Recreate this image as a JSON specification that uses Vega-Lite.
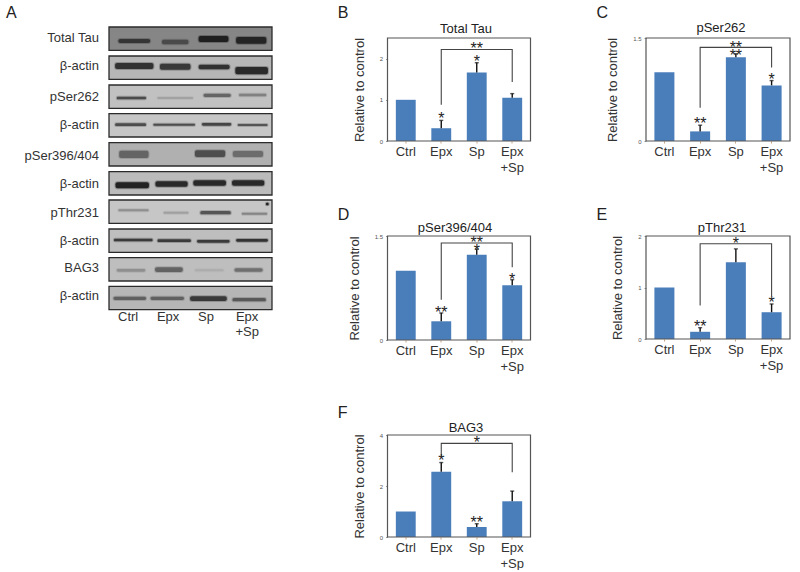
{"$schema":"https://vega.github.io/schema/vega-lite/v6.json","padding":{"left":6,"top":5,"right":0,"bottom":0},"background":"white","bounds":"flush","columns":3,"spacing":{"row":95,"column":115.5},
"config":{"font":"Liberation Sans","view":{"stroke":null},"text":{"font":"Liberation Sans"},"title":{"font":"Liberation Sans"},"axis":{"labelFont":"Liberation Sans","titleFont":"Liberation Sans"}},
"datasets":{
"strips":[{"row":"Total Tau","label":"Total Tau","top":0,"bottom":70,"mid":33,"level":0.56},{"row":"a1","label":"β-actin","top":87,"bottom":157,"mid":118,"level":0.74},{"row":"pSer262","label":"pSer262","top":174,"bottom":244,"mid":210,"level":0.78},{"row":"a2","label":"β-actin","top":260,"bottom":330,"mid":293,"level":0.8},{"row":"pSer396/404","label":"pSer396/404","top":347,"bottom":417,"mid":388,"level":0.72},{"row":"a3","label":"β-actin","top":434,"bottom":504,"mid":472,"level":0.76},{"row":"pThr231","label":"pThr231","top":519,"bottom":589,"mid":557,"level":0.8},{"row":"a4","label":"β-actin","top":606,"bottom":676,"mid":642,"level":0.77},{"row":"BAG3","label":"BAG3","top":692,"bottom":762,"mid":723,"level":0.77},{"row":"a5","label":"β-actin","top":778,"bottom":848,"mid":806,"level":0.74}],
"bands":[
{"a":0.23,"b":1.01,"t":36,"u":48,"d":0.75},{"a":1.3,"b":1.95,"t":38,"u":52,"d":0.55},{"a":2.2,"b":2.93,"t":27,"u":45,"d":0.95},{"a":3.12,"b":3.86,"t":30,"u":50,"d":0.9},
{"a":0.15,"b":1.09,"t":108,"u":126,"d":0.85},{"a":1.25,"b":2.0,"t":110,"u":128,"d":0.8},{"a":2.2,"b":2.96,"t":113,"u":127,"d":0.85},{"a":3.1,"b":3.9,"t":120,"u":142,"d":0.9},
{"a":0.19,"b":0.91,"t":209,"u":217,"d":0.7},{"a":1.19,"b":2.06,"t":211,"u":215,"d":0.22},{"a":2.32,"b":2.99,"t":200,"u":210,"d":0.55},{"a":3.19,"b":3.86,"t":200,"u":208,"d":0.38},
{"a":0.15,"b":0.91,"t":289,"u":297,"d":0.7},{"a":1.09,"b":2.11,"t":290,"u":296,"d":0.7},{"a":2.28,"b":3.0,"t":288,"u":296,"d":0.75},{"a":3.16,"b":3.89,"t":291,"u":297,"d":0.65},
{"a":0.25,"b":0.97,"t":371,"u":393,"d":0.5},{"a":2.11,"b":2.85,"t":370,"u":390,"d":0.65},{"a":3.04,"b":3.78,"t":372,"u":390,"d":0.45},
{"a":0.16,"b":0.98,"t":466,"u":484,"d":0.95},{"a":1.14,"b":1.93,"t":463,"u":479,"d":0.9},{"a":2.07,"b":2.87,"t":460,"u":476,"d":0.9},{"a":3.02,"b":3.81,"t":460,"u":476,"d":0.9},
{"a":0.23,"b":0.97,"t":547,"u":553,"d":0.32},{"a":1.34,"b":1.95,"t":554,"u":560,"d":0.22},{"a":2.24,"b":2.99,"t":552,"u":562,"d":0.65},{"a":3.26,"b":3.88,"t":557,"u":563,"d":0.38},{"a":3.85,"b":3.92,"t":527,"u":535,"d":0.95},
{"a":0.12,"b":1.07,"t":635,"u":643,"d":0.8},{"a":1.19,"b":2.01,"t":637,"u":645,"d":0.8},{"a":2.16,"b":2.96,"t":639,"u":647,"d":0.8},{"a":3.12,"b":3.9,"t":636,"u":644,"d":0.85},
{"a":0.19,"b":0.89,"t":726,"u":734,"d":0.28},{"a":1.13,"b":1.81,"t":721,"u":735,"d":0.55},{"a":2.11,"b":2.81,"t":727,"u":733,"d":0.1},{"a":3.08,"b":3.77,"t":724,"u":734,"d":0.48},
{"a":0.11,"b":0.91,"t":809,"u":819,"d":0.55},{"a":1.02,"b":1.84,"t":809,"u":819,"d":0.55},{"a":1.99,"b":2.89,"t":808,"u":822,"d":0.8},{"a":3.03,"b":3.85,"t":813,"u":823,"d":0.6}],
"lanes":[{"x":0.47,"y":870,"text":"Ctrl"},{"x":1.45,"y":870,"text":"Epx"},{"x":2.38,"y":870,"text":"Sp"},{"x":3.39,"y":870,"text":"Epx"},{"x":3.39,"y":916,"text":"+Sp"}],
"bars":[
{"p":"B","c":"Ctrl","v":1},{"p":"B","c":"Epx","v":0.31,"e":0.5},{"p":"B","c":"Sp","v":1.66,"e":1.9},{"p":"B","c":"Epx+Sp","v":1.05,"e":1.15},
{"p":"C","c":"Ctrl","v":1},{"p":"C","c":"Epx","v":0.14,"e":0.23},{"p":"C","c":"Sp","v":1.22,"e":1.27},{"p":"C","c":"Epx+Sp","v":0.81,"e":0.88},
{"p":"D","c":"Ctrl","v":1},{"p":"D","c":"Epx","v":0.27,"e":0.39},{"p":"D","c":"Sp","v":1.23,"e":1.31},{"p":"D","c":"Epx+Sp","v":0.79,"e":0.87},
{"p":"E","c":"Ctrl","v":1},{"p":"E","c":"Epx","v":0.14,"e":0.22},{"p":"E","c":"Sp","v":1.49,"e":1.75},{"p":"E","c":"Epx+Sp","v":0.52,"e":0.68},
{"p":"F","c":"Ctrl","v":1},{"p":"F","c":"Epx","v":2.56,"e":2.92},{"p":"F","c":"Sp","v":0.39,"e":0.52},{"p":"F","c":"Epx+Sp","v":1.4,"e":1.8}],
"brackets":[
{"p":"B","c":"Epx","y":0.88,"o":1},{"p":"B","c":"Epx","y":2.22,"o":2},{"p":"B","c":"Epx+Sp","y":2.22,"o":3},{"p":"B","c":"Epx+Sp","y":1.43,"o":4},
{"p":"C","c":"Epx","y":0.484,"o":1},{"p":"C","c":"Epx","y":1.363,"o":2},{"p":"C","c":"Epx+Sp","y":1.363,"o":3},{"p":"C","c":"Epx+Sp","y":1.07,"o":4},
{"p":"D","c":"Epx","y":0.58,"o":1},{"p":"D","c":"Epx","y":1.4,"o":2},{"p":"D","c":"Epx+Sp","y":1.4,"o":3},{"p":"D","c":"Epx+Sp","y":1.05,"o":4},
{"p":"E","c":"Epx","y":0.65,"o":1},{"p":"E","c":"Epx","y":1.85,"o":2},{"p":"E","c":"Epx+Sp","y":1.85,"o":3},{"p":"E","c":"Epx+Sp","y":0.83,"o":4},
{"p":"F","c":"Epx","y":3.15,"o":1},{"p":"F","c":"Epx","y":3.67,"o":2},{"p":"F","c":"Epx+Sp","y":3.67,"o":3},{"p":"F","c":"Epx+Sp","y":2.54,"o":4}],
"stars":[
{"p":"B","c":"Epx","y":0.63,"s":"*"},{"p":"B","c":"Sp","y":2.01,"s":"*"},{"p":"B","c":"Sp","y":2.32,"s":"**"},
{"p":"C","c":"Epx","y":0.3,"s":"**"},{"p":"C","c":"Sp","y":1.29,"s":"**"},{"p":"C","c":"Sp","y":1.41,"s":"**"},{"p":"C","c":"Epx+Sp","y":0.95,"s":"*"},
{"p":"D","c":"Epx","y":0.44,"s":"**"},{"p":"D","c":"Sp","y":1.34,"s":"*"},{"p":"D","c":"Sp","y":1.45,"s":"**"},{"p":"D","c":"Epx+Sp","y":0.93,"s":"*"},
{"p":"E","c":"Epx","y":0.32,"s":"**"},{"p":"E","c":"Sp","y":1.92,"s":"*"},{"p":"E","c":"Epx+Sp","y":0.78,"s":"*"},
{"p":"F","c":"Epx","y":3.13,"s":"*"},{"p":"F","c":"Sp","y":0.72,"s":"**"},{"p":"F","c":"Sp","y":3.84,"s":"*"}]
},
"concat":[
{"width":163,"height":103,"layer":[
{"data":{"name":"strips"},"mark":{"type":"rect","stroke":"#2b2b2b","strokeWidth":1.3},"encoding":{"x":{"datum":0,"type":"quantitative","scale":{"domain":[0,4]},"axis":null},"x2":{"datum":4},"y":{"field":"top","type":"quantitative","scale":{"domain":[342,33],"nice":false,"zero":false},"axis":null},"y2":{"field":"bottom"},"fill":{"field":"level","type":"quantitative","scale":{"domain":[0,1],"range":["#000000","#ffffff"]},"legend":null}}},
{"data":{"name":"bands"},"mark":{"type":"rect","fill":"#1a1a1a","stroke":"#1a1a1a","strokeWidth":2,"strokeOpacity":0.3,"cornerRadius":2},"encoding":{"x":{"field":"a","type":"quantitative"},"x2":{"field":"b"},"y":{"field":"t","type":"quantitative"},"y2":{"field":"u"},"opacity":{"field":"d","type":"quantitative","scale":{"domain":[0,1],"range":[0,1]},"legend":null}}},
{"data":{"name":"strips"},"mark":{"type":"text","align":"right","baseline":"middle","fontSize":13,"fill":"#333333","dx":-10},"encoding":{"x":{"datum":0,"type":"quantitative"},"y":{"field":"mid","type":"quantitative"},"text":{"field":"label"}}},
{"data":{"name":"lanes"},"mark":{"type":"text","align":"center","baseline":"middle","fontSize":13,"fill":"#333333"},"encoding":{"x":{"field":"x","type":"quantitative"},"y":{"field":"y","type":"quantitative"},"text":{"field":"text"}}},
{"data":{"values":[{"x":0,"y":33,"text":"A"}]},"mark":{"type":"text","align":"left","baseline":"middle","fontSize":16,"fill":"#222222","dx":-103,"dy":-25},"encoding":{"x":{"field":"x","type":"quantitative"},"y":{"field":"y","type":"quantitative"},"text":{"field":"text"}}}
]},
{"width":143,"height":103,"title":{"text":"Total Tau","fontSize":13,"fontWeight":"normal","color":"#222222","offset":3,"dx":7,"dy":34},"layer":[
{"data":{"name":"bars"},"transform":[{"filter":"datum.p=='B'"}],"mark":{"type":"bar","fill":"#4a7ebb"},"encoding":{"x":{"field":"c","type":"nominal","sort":["Ctrl","Epx","Sp","Epx+Sp"],"scale":{"paddingInner":0.44,"paddingOuter":0.235},"axis":{"title":null,"labelAngle":0,"labelFontSize":13,"labelColor":"#333333","labelPadding":2,"labelLineHeight":16,"tickSize":2,"tickColor":"#c9a27e","domain":false,"labelExpr":"datum.label=='Epx+Sp'?['Epx','+Sp']:datum.label"}},"y":{"field":"v","type":"quantitative","scale":{"domain":[0,2.5],"nice":false},"axis":{"title":"Relative to control","titleFontSize":13,"titleFontWeight":"normal","titleColor":"#333333","titlePadding":13,"values":[0,0.5,1,1.5,2,2.5],"format":"~g","labelOverlap":false,"labelFontSize":6,"labelColor":"#555555","labelPadding":3,"tickSize":2,"tickColor":"#999999","grid":false,"domain":false}}}},
{"data":{"name":"bars"},"transform":[{"filter":"datum.p=='B' && isValid(datum.e)"}],"mark":{"type":"rule","stroke":"#111111","strokeWidth":1.4},"encoding":{"x":{"field":"c","type":"nominal","sort":["Ctrl","Epx","Sp","Epx+Sp"]},"y":{"field":"v","type":"quantitative"},"y2":{"field":"e"}}},
{"data":{"name":"bars"},"transform":[{"filter":"datum.p=='B' && isValid(datum.e)"}],"mark":{"type":"tick","color":"#111111","size":4,"thickness":1.4},"encoding":{"x":{"field":"c","type":"nominal","sort":["Ctrl","Epx","Sp","Epx+Sp"]},"y":{"field":"e","type":"quantitative"}}},
{"data":{"name":"brackets"},"transform":[{"filter":"datum.p=='B'"}],"mark":{"type":"line","stroke":"#444444","strokeWidth":1.1},"encoding":{"x":{"field":"c","type":"nominal","sort":["Ctrl","Epx","Sp","Epx+Sp"]},"y":{"field":"y","type":"quantitative"},"order":{"field":"o"}}},
{"data":{"name":"stars"},"transform":[{"filter":"datum.p=='B'"}],"mark":{"type":"text","fontSize":16,"dy":4,"fill":"#222222"},"encoding":{"x":{"field":"c","type":"nominal","sort":["Ctrl","Epx","Sp","Epx+Sp"]},"y":{"field":"y","type":"quantitative"},"text":{"field":"s"}}},
{"data":{"values":[{"t":"B","c":"Ctrl","y":2.5}]},"mark":{"type":"text","fontSize":16,"align":"left","baseline":"middle","fill":"#222222","dx":-68,"dy":-25},"encoding":{"x":{"field":"c","type":"nominal","sort":["Ctrl","Epx","Sp","Epx+Sp"]},"y":{"field":"y","type":"quantitative"},"text":{"field":"t"}}},
{"data":{"values":[{"a":0,"b":2.5}]},"mark":{"type":"rect","fill":null,"stroke":"#555555","strokeWidth":1.2},"encoding":{"y":{"field":"a","type":"quantitative"},"y2":{"field":"b"}}}
]},
{"width":144,"height":103,"title":{"text":"pSer262","fontSize":13,"fontWeight":"normal","color":"#222222","offset":3,"dx":3,"dy":33},"layer":[
{"data":{"name":"bars"},"transform":[{"filter":"datum.p=='C'"}],"mark":{"type":"bar","fill":"#4a7ebb"},"encoding":{"x":{"field":"c","type":"nominal","sort":["Ctrl","Epx","Sp","Epx+Sp"],"scale":{"paddingInner":0.44,"paddingOuter":0.235},"axis":{"title":null,"labelAngle":0,"labelFontSize":13,"labelColor":"#333333","labelPadding":2,"labelLineHeight":16,"tickSize":2,"tickColor":"#c9a27e","domain":false,"labelExpr":"datum.label=='Epx+Sp'?['Epx','+Sp']:datum.label"}},"y":{"field":"v","type":"quantitative","scale":{"domain":[0,1.5],"nice":false},"axis":{"title":"Relative to control","titleFontSize":13,"titleFontWeight":"normal","titleColor":"#333333","titlePadding":13,"values":[0,0.5,1,1.5],"format":"~g","labelOverlap":false,"labelFontSize":6,"labelColor":"#555555","labelPadding":3,"tickSize":2,"tickColor":"#999999","grid":false,"domain":false}}}},
{"data":{"name":"bars"},"transform":[{"filter":"datum.p=='C' && isValid(datum.e)"}],"mark":{"type":"rule","stroke":"#111111","strokeWidth":1.4},"encoding":{"x":{"field":"c","type":"nominal","sort":["Ctrl","Epx","Sp","Epx+Sp"]},"y":{"field":"v","type":"quantitative"},"y2":{"field":"e"}}},
{"data":{"name":"bars"},"transform":[{"filter":"datum.p=='C' && isValid(datum.e)"}],"mark":{"type":"tick","color":"#111111","size":4,"thickness":1.4},"encoding":{"x":{"field":"c","type":"nominal","sort":["Ctrl","Epx","Sp","Epx+Sp"]},"y":{"field":"e","type":"quantitative"}}},
{"data":{"name":"brackets"},"transform":[{"filter":"datum.p=='C'"}],"mark":{"type":"line","stroke":"#444444","strokeWidth":1.1},"encoding":{"x":{"field":"c","type":"nominal","sort":["Ctrl","Epx","Sp","Epx+Sp"]},"y":{"field":"y","type":"quantitative"},"order":{"field":"o"}}},
{"data":{"name":"stars"},"transform":[{"filter":"datum.p=='C'"}],"mark":{"type":"text","fontSize":16,"dy":4,"fill":"#222222"},"encoding":{"x":{"field":"c","type":"nominal","sort":["Ctrl","Epx","Sp","Epx+Sp"]},"y":{"field":"y","type":"quantitative"},"text":{"field":"s"}}},
{"data":{"values":[{"t":"C","c":"Ctrl","y":1.5}]},"mark":{"type":"text","fontSize":16,"align":"left","baseline":"middle","fill":"#222222","dx":-68,"dy":-25},"encoding":{"x":{"field":"c","type":"nominal","sort":["Ctrl","Epx","Sp","Epx+Sp"]},"y":{"field":"y","type":"quantitative"},"text":{"field":"t"}}},
{"data":{"values":[{"a":0,"b":1.5}]},"mark":{"type":"rect","fill":null,"stroke":"#555555","strokeWidth":1.2},"encoding":{"y":{"field":"a","type":"quantitative"},"y2":{"field":"b"}}}
]},
{"width":1,"height":1,"data":{"values":[]},"mark":"point"},
{"width":143,"height":104,"title":{"text":"pSer396/404","fontSize":13,"fontWeight":"normal","color":"#222222","offset":3,"dx":-4,"dy":31},"layer":[
{"data":{"name":"bars"},"transform":[{"filter":"datum.p=='D'"}],"mark":{"type":"bar","fill":"#4a7ebb"},"encoding":{"x":{"field":"c","type":"nominal","sort":["Ctrl","Epx","Sp","Epx+Sp"],"scale":{"paddingInner":0.44,"paddingOuter":0.235},"axis":{"title":null,"labelAngle":0,"labelFontSize":13,"labelColor":"#333333","labelPadding":2,"labelLineHeight":16,"tickSize":2,"tickColor":"#c9a27e","domain":false,"labelExpr":"datum.label=='Epx+Sp'?['Epx','+Sp']:datum.label"}},"y":{"field":"v","type":"quantitative","scale":{"domain":[0,1.5],"nice":false},"axis":{"title":"Relative to control","titleFontSize":13,"titleFontWeight":"normal","titleColor":"#333333","titlePadding":13,"values":[0,0.5,1,1.5],"format":"~g","labelOverlap":false,"labelFontSize":6,"labelColor":"#555555","labelPadding":3,"tickSize":2,"tickColor":"#999999","grid":false,"domain":false}}}},
{"data":{"name":"bars"},"transform":[{"filter":"datum.p=='D' && isValid(datum.e)"}],"mark":{"type":"rule","stroke":"#111111","strokeWidth":1.4},"encoding":{"x":{"field":"c","type":"nominal","sort":["Ctrl","Epx","Sp","Epx+Sp"]},"y":{"field":"v","type":"quantitative"},"y2":{"field":"e"}}},
{"data":{"name":"bars"},"transform":[{"filter":"datum.p=='D' && isValid(datum.e)"}],"mark":{"type":"tick","color":"#111111","size":4,"thickness":1.4},"encoding":{"x":{"field":"c","type":"nominal","sort":["Ctrl","Epx","Sp","Epx+Sp"]},"y":{"field":"e","type":"quantitative"}}},
{"data":{"name":"brackets"},"transform":[{"filter":"datum.p=='D'"}],"mark":{"type":"line","stroke":"#444444","strokeWidth":1.1},"encoding":{"x":{"field":"c","type":"nominal","sort":["Ctrl","Epx","Sp","Epx+Sp"]},"y":{"field":"y","type":"quantitative"},"order":{"field":"o"}}},
{"data":{"name":"stars"},"transform":[{"filter":"datum.p=='D'"}],"mark":{"type":"text","fontSize":16,"dy":4,"fill":"#222222"},"encoding":{"x":{"field":"c","type":"nominal","sort":["Ctrl","Epx","Sp","Epx+Sp"]},"y":{"field":"y","type":"quantitative"},"text":{"field":"s"}}},
{"data":{"values":[{"t":"D","c":"Ctrl","y":1.5}]},"mark":{"type":"text","fontSize":16,"align":"left","baseline":"middle","fill":"#222222","dx":-68,"dy":-21},"encoding":{"x":{"field":"c","type":"nominal","sort":["Ctrl","Epx","Sp","Epx+Sp"]},"y":{"field":"y","type":"quantitative"},"text":{"field":"t"}}},
{"data":{"values":[{"a":0,"b":1.5}]},"mark":{"type":"rect","fill":null,"stroke":"#555555","strokeWidth":1.2},"encoding":{"y":{"field":"a","type":"quantitative"},"y2":{"field":"b"}}}
]},
{"width":144,"height":103,"title":{"text":"pThr231","fontSize":13,"fontWeight":"normal","color":"#222222","offset":3,"dx":4,"dy":31},"layer":[
{"data":{"name":"bars"},"transform":[{"filter":"datum.p=='E'"}],"mark":{"type":"bar","fill":"#4a7ebb"},"encoding":{"x":{"field":"c","type":"nominal","sort":["Ctrl","Epx","Sp","Epx+Sp"],"scale":{"paddingInner":0.44,"paddingOuter":0.235},"axis":{"title":null,"labelAngle":0,"labelFontSize":13,"labelColor":"#333333","labelPadding":2,"labelLineHeight":16,"tickSize":2,"tickColor":"#c9a27e","domain":false,"labelExpr":"datum.label=='Epx+Sp'?['Epx','+Sp']:datum.label"}},"y":{"field":"v","type":"quantitative","scale":{"domain":[0,2],"nice":false},"axis":{"title":"Relative to control","titleFontSize":13,"titleFontWeight":"normal","titleColor":"#333333","titlePadding":13,"values":[0,0.5,1,1.5,2],"format":"~g","labelOverlap":false,"labelFontSize":6,"labelColor":"#555555","labelPadding":3,"tickSize":2,"tickColor":"#999999","grid":false,"domain":false}}}},
{"data":{"name":"bars"},"transform":[{"filter":"datum.p=='E' && isValid(datum.e)"}],"mark":{"type":"rule","stroke":"#111111","strokeWidth":1.4},"encoding":{"x":{"field":"c","type":"nominal","sort":["Ctrl","Epx","Sp","Epx+Sp"]},"y":{"field":"v","type":"quantitative"},"y2":{"field":"e"}}},
{"data":{"name":"bars"},"transform":[{"filter":"datum.p=='E' && isValid(datum.e)"}],"mark":{"type":"tick","color":"#111111","size":4,"thickness":1.4},"encoding":{"x":{"field":"c","type":"nominal","sort":["Ctrl","Epx","Sp","Epx+Sp"]},"y":{"field":"e","type":"quantitative"}}},
{"data":{"name":"brackets"},"transform":[{"filter":"datum.p=='E'"}],"mark":{"type":"line","stroke":"#444444","strokeWidth":1.1},"encoding":{"x":{"field":"c","type":"nominal","sort":["Ctrl","Epx","Sp","Epx+Sp"]},"y":{"field":"y","type":"quantitative"},"order":{"field":"o"}}},
{"data":{"name":"stars"},"transform":[{"filter":"datum.p=='E'"}],"mark":{"type":"text","fontSize":16,"dy":4,"fill":"#222222"},"encoding":{"x":{"field":"c","type":"nominal","sort":["Ctrl","Epx","Sp","Epx+Sp"]},"y":{"field":"y","type":"quantitative"},"text":{"field":"s"}}},
{"data":{"values":[{"t":"E","c":"Ctrl","y":2}]},"mark":{"type":"text","fontSize":16,"align":"left","baseline":"middle","fill":"#222222","dx":-68,"dy":-21},"encoding":{"x":{"field":"c","type":"nominal","sort":["Ctrl","Epx","Sp","Epx+Sp"]},"y":{"field":"y","type":"quantitative"},"text":{"field":"t"}}},
{"data":{"values":[{"a":0,"b":2}]},"mark":{"type":"rect","fill":null,"stroke":"#555555","strokeWidth":1.2},"encoding":{"y":{"field":"a","type":"quantitative"},"y2":{"field":"b"}}}
]},
{"width":1,"height":1,"data":{"values":[]},"mark":"point"},
{"width":143,"height":102,"title":{"text":"BAG3","fontSize":13,"fontWeight":"normal","color":"#222222","offset":3,"dx":7,"dy":33},"layer":[
{"data":{"name":"bars"},"transform":[{"filter":"datum.p=='F'"}],"mark":{"type":"bar","fill":"#4a7ebb"},"encoding":{"x":{"field":"c","type":"nominal","sort":["Ctrl","Epx","Sp","Epx+Sp"],"scale":{"paddingInner":0.44,"paddingOuter":0.235},"axis":{"title":null,"labelAngle":0,"labelFontSize":13,"labelColor":"#333333","labelPadding":2,"labelLineHeight":16,"tickSize":2,"tickColor":"#c9a27e","domain":false,"labelExpr":"datum.label=='Epx+Sp'?['Epx','+Sp']:datum.label"}},"y":{"field":"v","type":"quantitative","scale":{"domain":[0,4],"nice":false},"axis":{"title":"Relative to control","titleFontSize":13,"titleFontWeight":"normal","titleColor":"#333333","titlePadding":13,"values":[0,1,2,3,4],"format":"~g","labelOverlap":false,"labelFontSize":6,"labelColor":"#555555","labelPadding":3,"tickSize":2,"tickColor":"#999999","grid":false,"domain":false}}}},
{"data":{"name":"bars"},"transform":[{"filter":"datum.p=='F' && isValid(datum.e)"}],"mark":{"type":"rule","stroke":"#111111","strokeWidth":1.4},"encoding":{"x":{"field":"c","type":"nominal","sort":["Ctrl","Epx","Sp","Epx+Sp"]},"y":{"field":"v","type":"quantitative"},"y2":{"field":"e"}}},
{"data":{"name":"bars"},"transform":[{"filter":"datum.p=='F' && isValid(datum.e)"}],"mark":{"type":"tick","color":"#111111","size":4,"thickness":1.4},"encoding":{"x":{"field":"c","type":"nominal","sort":["Ctrl","Epx","Sp","Epx+Sp"]},"y":{"field":"e","type":"quantitative"}}},
{"data":{"name":"brackets"},"transform":[{"filter":"datum.p=='F'"}],"mark":{"type":"line","stroke":"#444444","strokeWidth":1.1},"encoding":{"x":{"field":"c","type":"nominal","sort":["Ctrl","Epx","Sp","Epx+Sp"]},"y":{"field":"y","type":"quantitative"},"order":{"field":"o"}}},
{"data":{"name":"stars"},"transform":[{"filter":"datum.p=='F'"}],"mark":{"type":"text","fontSize":16,"dy":4,"fill":"#222222"},"encoding":{"x":{"field":"c","type":"nominal","sort":["Ctrl","Epx","Sp","Epx+Sp"]},"y":{"field":"y","type":"quantitative"},"text":{"field":"s"}}},
{"data":{"values":[{"t":"F","c":"Ctrl","y":4}]},"mark":{"type":"text","fontSize":16,"align":"left","baseline":"middle","fill":"#222222","dx":-68,"dy":-22},"encoding":{"x":{"field":"c","type":"nominal","sort":["Ctrl","Epx","Sp","Epx+Sp"]},"y":{"field":"y","type":"quantitative"},"text":{"field":"t"}}},
{"data":{"values":[{"a":0,"b":4}]},"mark":{"type":"rect","fill":null,"stroke":"#555555","strokeWidth":1.2},"encoding":{"y":{"field":"a","type":"quantitative"},"y2":{"field":"b"}}}
]}
]}
